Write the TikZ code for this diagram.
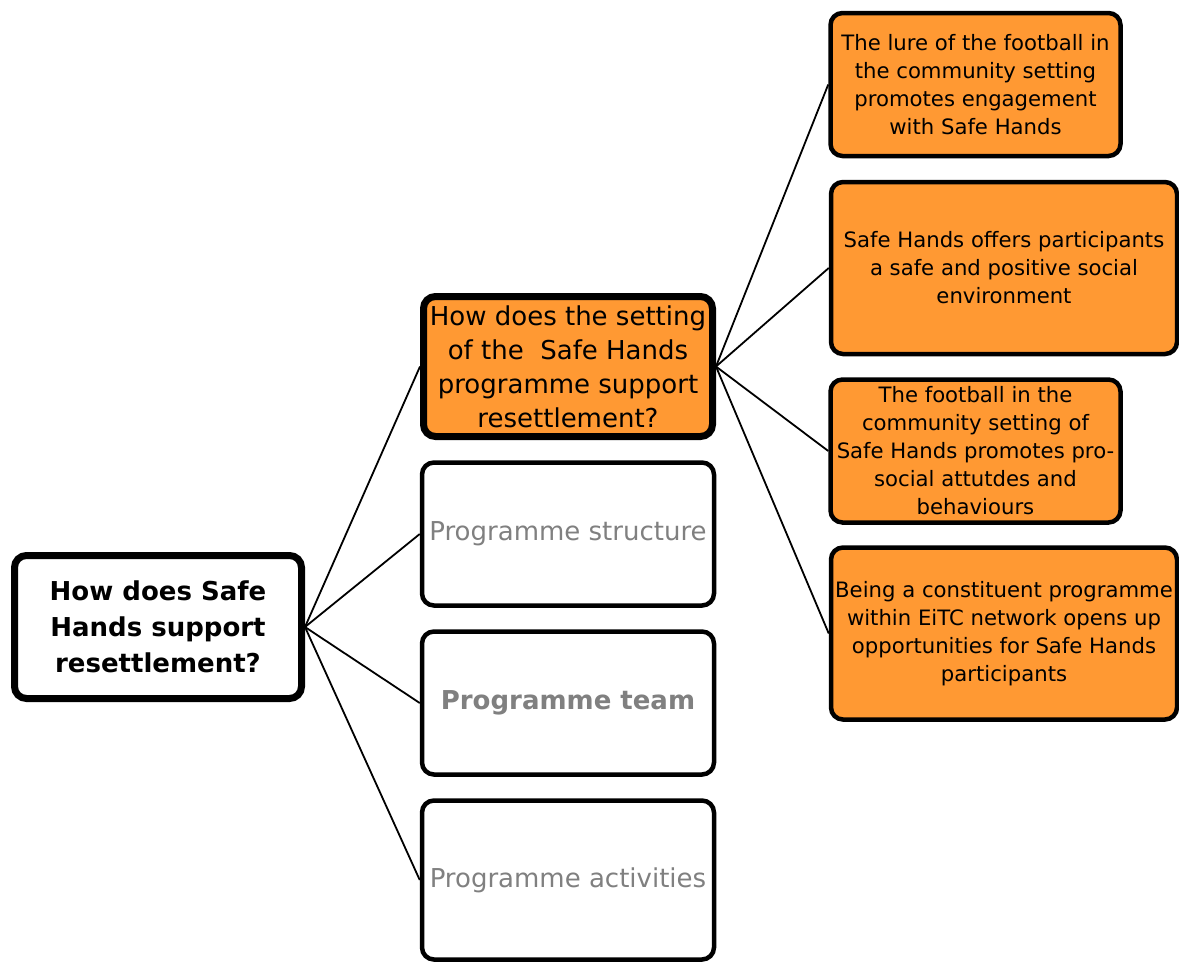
\documentclass[tikz,border=0pt]{standalone}
\usepackage{fontspec}
\setmainfont{DejaVu Sans}
\definecolor{boxorange}{HTML}{FF9933}
\definecolor{greytext}{HTML}{808080}
\begin{document}
\begin{tikzpicture}[x=1pt,y=-1pt,
  box/.style={draw, rounded corners=12pt, align=center, inner sep=1pt},
  rootbox/.style={box, line width=7pt, fill=white, font=\fontsize{26}{36}\selectfont\bfseries},
  mainbox/.style={box, line width=7pt, fill=boxorange, font=\fontsize{26}{34}\selectfont},
  greybox/.style={box, line width=4.5pt, fill=white, text=greytext, font=\fontsize{26}{34}\selectfont},
  leafbox/.style={box, line width=4.5pt, fill=boxorange, font=\fontsize{21.2}{28}\selectfont},
  link/.style={line width=1.8pt}]
\useasboundingbox (0,0) rectangle (1179,962);

% root question
\node[rootbox, minimum width=287pt, minimum height=143pt] (root) at (158,627)
  {How does Safe\\Hands support\\resettlement?};

% middle column
\node[mainbox, minimum width=289pt, minimum height=140pt] (setting) at (568,366.5)
  {How does the setting\\of the \ Safe Hands\\programme support\\resettlement?};
\node[greybox, minimum width=292pt, minimum height=143pt] (structure) at (568,534)
  {Programme structure};
\node[greybox, minimum width=292pt, minimum height=143pt] (team) at (568,703)
  {\bfseries Programme team};
\node[greybox, minimum width=292pt, minimum height=159pt] (activities) at (568,880)
  {Programme activities};

% right column
\node[leafbox, minimum width=290pt, minimum height=143pt] (lure) at (975.5,84.5)
  {The lure of the football in\\the community setting\\promotes engagement\\with Safe Hands};
\node[leafbox, minimum width=346pt, minimum height=172pt] (safe) at (1004,268)
  {Safe Hands offers participants\\a safe and positive social\\environment};
\node[leafbox, minimum width=290pt, minimum height=143pt] (prosocial) at (975.5,451)
  {The football in the\\community setting of\\Safe Hands promotes pro-\\social attutdes and\\behaviours};
\node[leafbox, minimum width=346pt, minimum height=172pt] (eitc) at (1004,633.5)
  {Being a constituent programme\\within EiTC network opens up\\opportunities for Safe Hands\\participants};

% connectors
\foreach \n in {setting,structure,team,activities}
  \draw[link] (root.east) -- (\n.west);
\foreach \n in {lure,safe,prosocial,eitc}
  \draw[link] (setting.east) -- (\n.west);
\end{tikzpicture}
\end{document}
